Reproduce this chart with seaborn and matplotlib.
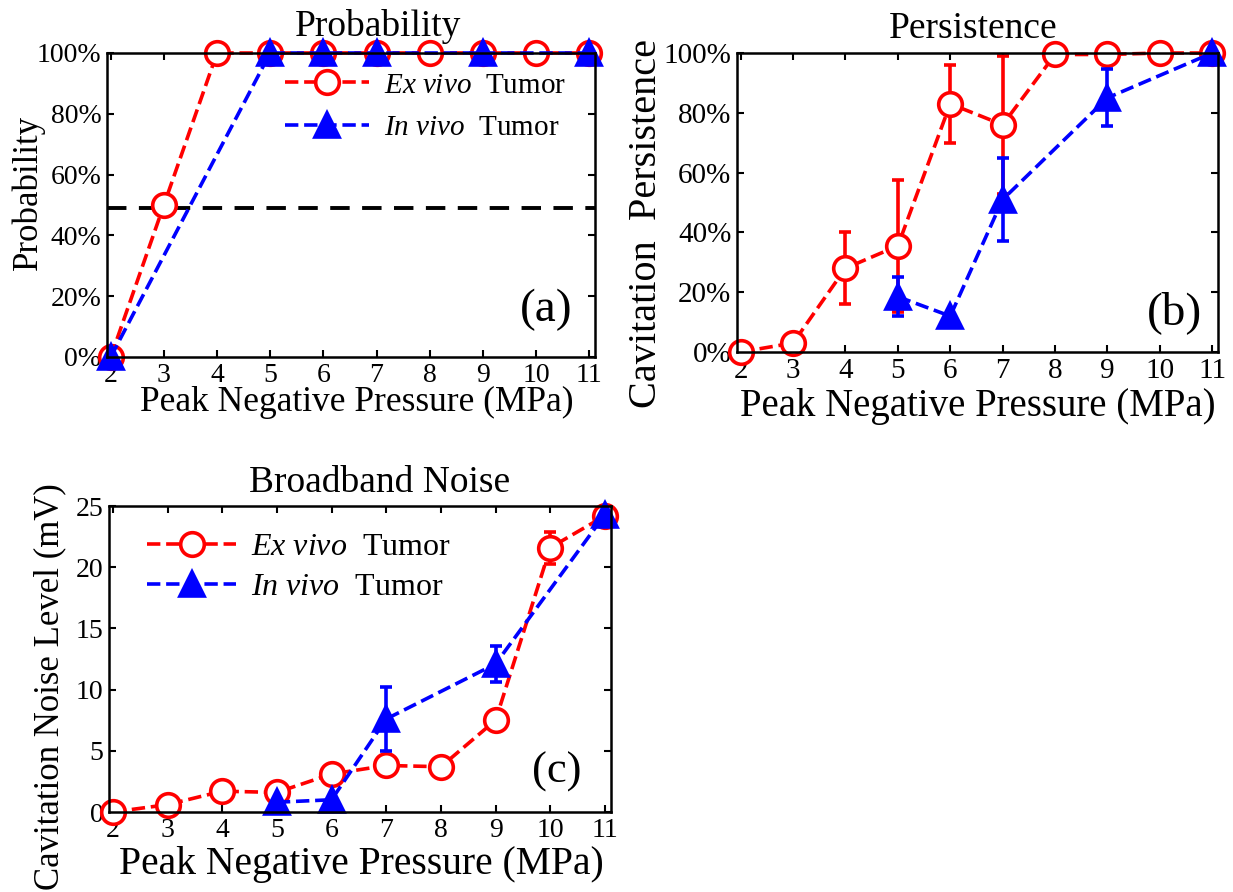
import matplotlib
matplotlib.use("Agg")
import matplotlib.pyplot as plt
from matplotlib.ticker import FuncFormatter, MultipleLocator
import seaborn as sns

# peak negative pressure (MPa)
pressure = [2, 3, 4, 5, 6, 7, 8, 9, 10, 11]
pressure_invivo_a = [2, 5, 6, 7, 9, 11]
pressure_invivo = [5, 6, 7, 9, 11]

# (a) probability (%)
prob_exvivo = [0, 50, 100, 100, 100, 100, 100, 100, 100, 100]
prob_invivo = [0, 100, 100, 100, 100, 100]
prob_threshold = 49

# (b) persistence (%)
persist_exvivo = [0, 3, 28, 35.5, 83, 76, 99.5, 99.5, 100, 100]
persist_exvivo_err = [0, 0, 12, 22, 13, 23, 0, 0, 0, 0]
persist_invivo = [18.5, 12, 51, 85, 100]
persist_invivo_err = [6.5, 0, 14, 9.5, 0]

# (c) broadband noise (mV)
noise_exvivo = [0, 0.6, 1.7, 1.6, 3.1, 3.8, 3.7, 7.5, 21.6, 24.2]
noise_exvivo_err = [0, 0, 0, 0, 0, 0, 0, 0, 1.3, 0]
noise_invivo = [0.8, 1.0, 7.6, 12.1, 24.3]
noise_invivo_err = [0, 0, 2.6, 1.5, 0]

label_ex = r"$\mathit{Ex\ vivo}$  Tumor"
label_in = r"$\mathit{In\ vivo}$  Tumor"

sns.set_theme(style="ticks")
plt.rcParams["font.family"] = ["Liberation Serif", "DejaVu Serif"]
plt.rcParams["mathtext.fontset"] = "custom"
plt.rcParams["mathtext.rm"] = "Liberation Serif"
plt.rcParams["mathtext.it"] = "Liberation Serif:italic"
for key in ["text.color", "axes.labelcolor", "xtick.color", "ytick.color", "axes.edgecolor"]:
    plt.rcParams[key] = "black"

W, H = 1233, 892
fig = plt.figure(figsize=(W / 100, H / 100), dpi=100)
fig.patch.set_facecolor("white")


def px_axes(left, top, right, bottom):
    return fig.add_axes([left / W, 1 - bottom / H, (right - left) / W, (bottom - top) / H])


line_kw = dict(linestyle="--", linewidth=2.6, markersize=17, markeredgewidth=2.6, clip_on=False)
err_kw = dict(fmt="none", elinewidth=2.6, capsize=4, capthick=2.6, clip_on=False)


def style_axes(ax, tick_size):
    ax.set_facecolor("white")
    for sp in ax.spines.values():
        sp.set_visible(True)
        sp.set_color("black")
        sp.set_linewidth(1.8)
    ax.tick_params(direction="in", top=True, right=True, length=5, width=1.5,
                   labelsize=tick_size, colors="black", pad=4)
    ax.set_xticks(pressure)
    ax.set_xlim(1.93, 11.11)
    ax.grid(False)


# ---------- (a) Probability ----------
ax1 = px_axes(107, 53, 595, 357)
ax1.axhline(prob_threshold, color="black", linestyle=(0, (5, 3.2)), linewidth=2.8, zorder=1)
sns.lineplot(x=pressure, y=prob_exvivo, ax=ax1, color="red", marker="o",
             markerfacecolor="white", mec="red", label=label_ex, **line_kw)
sns.lineplot(x=pressure_invivo_a, y=prob_invivo, ax=ax1, color="blue", marker="^",
             markerfacecolor="blue", mec="blue", label=label_in, **line_kw)
style_axes(ax1, 20)
ax1.set_ylim(0, 100)
ax1.yaxis.set_major_locator(MultipleLocator(20))
ax1.yaxis.set_major_formatter(FuncFormatter(lambda v, _: f"{int(v)}%"))
ax1.set_title("Probability", fontsize=27, pad=12, x=0.555)
ax1.set_xlabel("Peak Negative Pressure (MPa)", fontsize=25.5)
ax1.xaxis.set_label_coords(0.512, -0.095)
ax1.set_ylabel("Probability", fontsize=25)
ax1.yaxis.set_label_coords(-0.128, 0.54)
ax1.text(0.9, 0.155, "(a)", transform=ax1.transAxes, fontsize=34, ha="center", va="center")
ax1.legend(loc="upper left", bbox_to_anchor=(0.34, 0.975), frameon=False, fontsize=21,
           handlelength=2.9, handletextpad=0.5, labelspacing=0.55, borderaxespad=0)

# ---------- (b) Persistence ----------
ax2 = px_axes(737, 53, 1218, 352)
ax2.errorbar(pressure, persist_exvivo, yerr=persist_exvivo_err, ecolor="red", **err_kw)
sns.lineplot(x=pressure, y=persist_exvivo, ax=ax2, color="red", marker="o",
             markerfacecolor="white", mec="red", **line_kw)
ax2.errorbar(pressure_invivo, persist_invivo, yerr=persist_invivo_err, ecolor="blue", **err_kw)
sns.lineplot(x=pressure_invivo, y=persist_invivo, ax=ax2, color="blue", marker="^",
             markerfacecolor="blue", mec="blue", **line_kw)
style_axes(ax2, 21)
ax2.set_ylim(0, 100)
ax2.yaxis.set_major_locator(MultipleLocator(20))
ax2.yaxis.set_major_formatter(FuncFormatter(lambda v, _: f"{int(v)}%"))
ax2.set_title("Persistence", fontsize=27, pad=11, x=0.49)
ax2.set_xlabel("Peak Negative Pressure (MPa)", fontsize=28)
ax2.xaxis.set_label_coords(0.5, -0.12)
ax2.set_ylabel("Cavitation  Persistence", fontsize=29)
ax2.yaxis.set_label_coords(-0.15, 0.43)
ax2.text(0.91, 0.133, "(b)", transform=ax2.transAxes, fontsize=34, ha="center", va="center")

# ---------- (c) Broadband Noise ----------
ax3 = px_axes(109, 506, 611, 812)
ax3.errorbar(pressure, noise_exvivo, yerr=noise_exvivo_err, ecolor="red", **err_kw)
sns.lineplot(x=pressure, y=noise_exvivo, ax=ax3, color="red", marker="o",
             markerfacecolor="white", mec="red", label=label_ex, **line_kw)
ax3.errorbar(pressure_invivo, noise_invivo, yerr=noise_invivo_err, ecolor="blue", **err_kw)
sns.lineplot(x=pressure_invivo, y=noise_invivo, ax=ax3, color="blue", marker="^",
             markerfacecolor="blue", mec="blue", label=label_in, **line_kw)
style_axes(ax3, 20)
ax3.set_ylim(0, 25)
ax3.yaxis.set_major_locator(MultipleLocator(5))
ax3.set_title("Broadband Noise", fontsize=27, pad=10, x=0.538)
ax3.set_xlabel("Peak Negative Pressure (MPa)", fontsize=28.5)
ax3.xaxis.set_label_coords(0.502, -0.11)
ax3.set_ylabel("Cavitation Noise Level (mV)", fontsize=25)
ax3.yaxis.set_label_coords(-0.085, 0.41)
ax3.text(0.892, 0.13, "(c)", transform=ax3.transAxes, fontsize=32, ha="center", va="center")
ax3.legend(loc="upper left", bbox_to_anchor=(0.05, 0.955), frameon=False, fontsize=23,
           handlelength=2.8, handletextpad=0.45, labelspacing=0.35, borderaxespad=0)

fig.savefig("out.png", dpi=100, facecolor="white")
